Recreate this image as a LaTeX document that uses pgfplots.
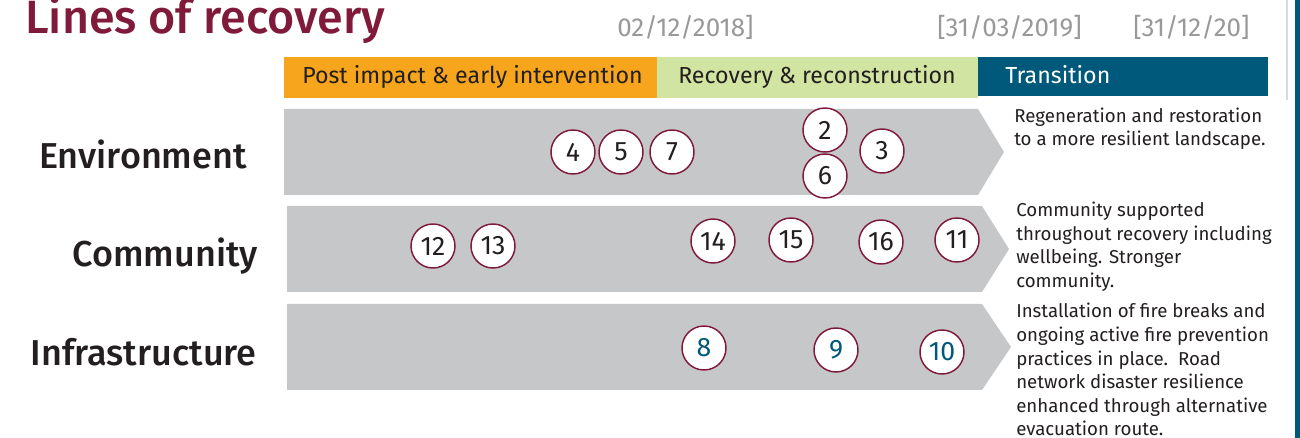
\documentclass[border=0pt]{standalone}
\usepackage{fontspec}
\setmainfont{Fira Sans}
\newfontfamily\medfont{Fira Sans Medium}
\usepackage{pgfplots}
\pgfplotsset{compat=1.18}
\usepackage{pgfplotstable}
\definecolor{maroon}{HTML}{7F1A3A}
\definecolor{phaseorange}{HTML}{F7A51C}
\definecolor{phasegreen}{HTML}{D2E4A2}
\definecolor{phaseteal}{HTML}{00587A}
\definecolor{arrowgray}{HTML}{C6C7C9}
\definecolor{darktext}{HTML}{231F20}
\definecolor{dategray}{HTML}{999999}

\pgfplotstableread{
x y lab
573 152 4
621 152 5
672 152 7
825 130 2
882 151 3
825 176 6
}\envdata
\pgfplotstableread{
x y lab
433 246 12
493 246 13
713 241 14
791 240 15
881 242 16
957 240 11
}\comdata
\pgfplotstableread{
x y lab
704 348 8
836 350 9
942 352 10
}\infdata

\begin{document}
\begin{tikzpicture}
\useasboundingbox (0,0) rectangle (975pt,328.5pt);
\clip (0,0) rectangle (975pt,328.5pt);
\begin{axis}[at={(0,0)}, anchor=south west, hide axis, scale only axis,
  width=975pt, height=328.5pt, xmin=0, xmax=1300, ymin=0, ymax=438,
  y dir=reverse, clip=false,
  circ/.style={only marks, mark=*, mark size=16.5pt,
    mark options={fill=white, draw=maroon, line width=1.1pt},
    point meta=explicit symbolic, nodes near coords={\pgfplotspointmeta},
    every node near coord/.append style={anchor=center, inner sep=0pt,
      font=\fontsize{20}{22}\selectfont}},
  shape/.style={mark=none, draw=none}]
% phase bars
\addplot[shape, fill=phaseorange] coordinates {(284,57) (657,57) (657,98) (284,98)} -- cycle;
\addplot[shape, fill=phasegreen] coordinates {(657,57) (978,57) (978,98) (657,98)} -- cycle;
\addplot[shape, fill=phaseteal] coordinates {(978,57) (1268,57) (1268,96) (978,96)} -- cycle;
% arrows
\addplot[shape, fill=arrowgray] coordinates {(284,109) (978,109) (1004,152) (978,195) (284,195)} -- cycle;
\addplot[shape, fill=arrowgray] coordinates {(287,206) (982,206) (1009,249) (982,292) (287,292)} -- cycle;
\addplot[shape, fill=arrowgray] coordinates {(287,304) (982,304) (1011,347) (982,390) (287,390)} -- cycle;
% right edge
\addplot[shape, fill=phaseteal] coordinates {(1295,0) (1300,0) (1300,438) (1295,438)} -- cycle;
\addplot[mark=none, draw=black!15, line width=0.8pt] coordinates {(1287,0) (1287,100)};
% circles
\addplot[circ, every node near coord/.append style={text=darktext}] table[x=x, y=y, meta=lab] {\envdata};
\addplot[circ, every node near coord/.append style={text=darktext}] table[x=x, y=y, meta=lab] {\comdata};
\addplot[circ, every node near coord/.append style={text=phaseteal}] table[x=x, y=y, meta=lab] {\infdata};
% title and dates
\node[anchor=base west, inner sep=0, text=maroon, font=\medfont\fontsize{35}{40}\selectfont] at (axis cs:25,34) {Lines of recovery};
\node[anchor=base west, inner sep=0, text=dategray, font=\fontsize{19.5}{22}\selectfont] at (axis cs:617,37) {02/12/2018]};
\node[anchor=base west, inner sep=0, text=dategray, font=\fontsize{19.5}{22}\selectfont] at (axis cs:937,37) {[31/03/2019]};
\node[anchor=base west, inner sep=0, text=dategray, font=\fontsize{19.5}{22}\selectfont] at (axis cs:1133,37) {[31/12/20]};
% phase labels
\node[anchor=base west, inner sep=0, text=darktext, font=\fontsize{17.4}{20}\selectfont] at (axis cs:302,84) {Post impact \& early intervention};
\node[anchor=base west, inner sep=0, text=darktext, font=\fontsize{17.4}{20}\selectfont] at (axis cs:678,84) {Recovery \& reconstruction};
\node[anchor=base west, inner sep=0, text=white, font=\fontsize{17.4}{20}\selectfont] at (axis cs:1005,84) {Transition};
% row labels
\node[anchor=base east, inner sep=0, text=darktext, font=\medfont\fontsize{27}{32}\selectfont] at (axis cs:247,169) {Environment};
\node[anchor=base east, inner sep=0, text=darktext, font=\medfont\fontsize{27}{32}\selectfont] at (axis cs:258,267) {Community};
\node[anchor=base east, inner sep=0, text=darktext, font=\medfont\fontsize{27}{32}\selectfont] at (axis cs:257,365) {Infrastructure};
% right descriptions
\begin{scope}[every node/.style={anchor=base west, inner sep=0, text=darktext, font=\fontsize{14}{17}\selectfont}]
\node at (axis cs:1014,123) {Regeneration and restoration};
\node at (axis cs:1014,146) {to a more resilient landscape.};
\node at (axis cs:1016,217) {Community supported};
\node at (axis cs:1016,240.5) {throughout recovery including};
\node at (axis cs:1016,264) {wellbeing. Stronger};
\node at (axis cs:1016,287.5) {community.};
\node at (axis cs:1016,318) {Installation of fire breaks and};
\node at (axis cs:1016,341.5) {ongoing active fire prevention};
\node at (axis cs:1016,365) {practices in place.\ \ Road};
\node at (axis cs:1016,388.5) {network disaster resilience};
\node at (axis cs:1016,412) {enhanced through alternative};
\node at (axis cs:1016,435) {evacuation route.};
\end{scope}
\end{axis}
\end{tikzpicture}
\end{document}
